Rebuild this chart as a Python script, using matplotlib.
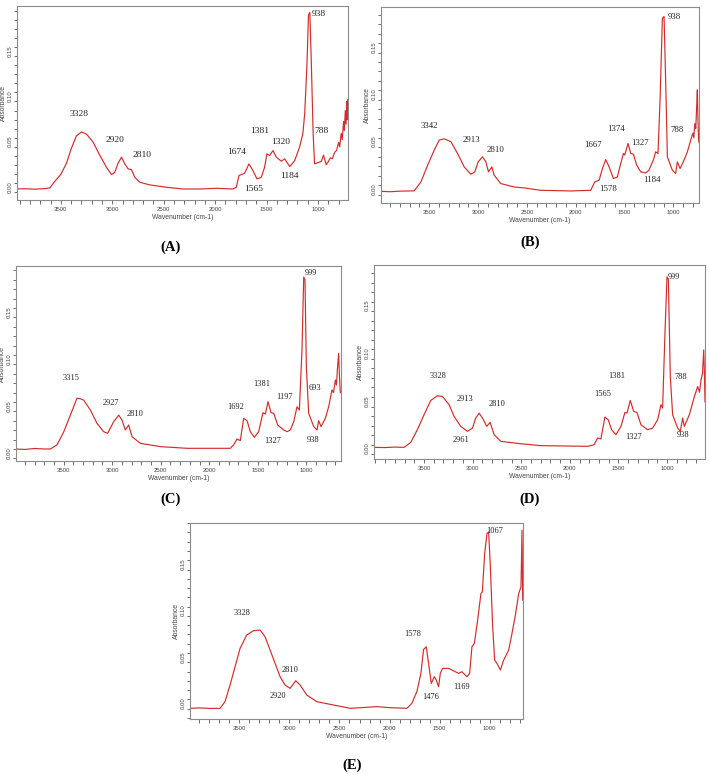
import matplotlib
matplotlib.use('Agg')
import matplotlib.pyplot as plt
from matplotlib.ticker import MultipleLocator, FixedLocator

# FTIR spectra, values
A_wn = [3930, 3850, 3750, 3650, 3607, 3560, 3500, 3446, 3400, 3350, 3300, 3250, 3186,
        3121, 3057, 3008, 2976, 2943, 2911, 2879, 2846, 2814, 2782, 2733, 2636, 2474,
        2312, 2150, 1989, 1827, 1795, 1769, 1746, 1714, 1672, 1633, 1594, 1552, 1520,
        1497, 1471, 1438, 1406, 1357, 1325, 1275, 1227, 1180, 1148, 1130, 1109, 1093,
        1080, 1065, 1048, 1034, 992, 969, 947, 921, 900, 880, 860, 840, 820, 800, 790,
        775, 765, 752, 745, 735, 728, 720, 715, 710, 705]
A_abs = [-0.0062, -0.0060, -0.0065, -0.0058, -0.0050, 0.002, 0.010, 0.022, 0.038, 0.052,
         0.0565, 0.054, 0.045, 0.0305, 0.0176, 0.0096, 0.0121, 0.0224, 0.0287, 0.0213,
         0.0158, 0.015, 0.0066, 0.0011, -0.0018, -0.0044, -0.0063, -0.0063, -0.0055,
         -0.0063, -0.0044, 0.0085, 0.0096, 0.011, 0.0213, 0.014, 0.0048, 0.0066, 0.0176,
         0.0324, 0.0305, 0.036, 0.0287, 0.0243, 0.0268, 0.0184, 0.025, 0.0397, 0.0544,
         0.0765, 0.128, 0.185, 0.188, 0.13, 0.055, 0.0214, 0.023, 0.024, 0.031, 0.0204,
         0.024, 0.028, 0.027, 0.034, 0.036, 0.045, 0.040, 0.055, 0.048, 0.068, 0.058,
         0.080, 0.065, 0.090, 0.070, 0.092, 0.080]

B_wn = [3994, 3900, 3800, 3700, 3653, 3585, 3517, 3449, 3398, 3347, 3278, 3210, 3142,
        3074, 3033, 2999, 2954, 2920, 2893, 2859, 2835, 2767, 2630, 2528, 2357, 2050,
        1846, 1805, 1760, 1726, 1692, 1658, 1614, 1573, 1539, 1511, 1498, 1464, 1436,
        1409, 1375, 1334, 1283, 1249, 1205, 1181, 1157, 1136, 1112, 1095, 1078, 1061,
        1010, 976, 959, 931, 890, 856, 822, 800, 790, 780, 770, 760, 754, 748, 742, 737]
B_abs = [-0.0064, -0.0068, -0.0062, -0.0060, -0.0058, 0.0035, 0.021, 0.037, 0.0476,
         0.049, 0.0459, 0.0335, 0.0194, 0.0116, 0.0141, 0.0247, 0.030, 0.0247, 0.0141,
         0.0194, 0.0106, 0.0018, -0.0018, -0.0028, -0.0053, -0.006, -0.0053, 0.0035,
         0.0053, 0.0176, 0.0272, 0.0194, 0.0071, 0.0088, 0.0229, 0.0335, 0.0318, 0.0441,
         0.0335, 0.0328, 0.0212, 0.0141, 0.013, 0.0159, 0.0265, 0.0353, 0.0335, 0.09,
         0.176, 0.178, 0.108, 0.030, 0.0159, 0.0124, 0.0247, 0.0176, 0.0265, 0.0353,
         0.0476, 0.055, 0.050, 0.065, 0.060, 0.085, 0.1006, 0.07, 0.05, 0.045]

C_wn = [3991, 3900, 3800, 3700, 3637, 3569, 3500, 3431, 3363, 3330, 3294, 3225, 3157,
        3088, 3047, 2985, 2933, 2899, 2865, 2830, 2796, 2710, 2504, 2229, 1783, 1749,
        1714, 1680, 1646, 1611, 1577, 1536, 1491, 1447, 1422, 1395, 1364, 1336, 1295,
        1233, 1199, 1165, 1130, 1096, 1072, 1045, 1027, 1014, 1000, 976, 924, 890, 873,
        849, 804, 770, 736, 720, 701, 690, 680, 667, 660, 650]
C_abs = [0.0, -0.0005, 0.0005, 0.0, 0.0, 0.0043, 0.018, 0.036, 0.054, 0.0535, 0.052,
         0.0415, 0.0273, 0.0184, 0.0167, 0.029, 0.036, 0.0308, 0.0202, 0.0255, 0.0131,
         0.006, 0.0025, 0.0007, 0.0007, 0.0043, 0.0106, 0.0089, 0.0326, 0.0301, 0.0184,
         0.0124, 0.0184, 0.0387, 0.0372, 0.0504, 0.0387, 0.038, 0.0255, 0.0202, 0.0184,
         0.0202, 0.029, 0.045, 0.0415, 0.105, 0.183, 0.18, 0.0876, 0.038, 0.0238, 0.0202,
         0.0301, 0.0238, 0.0326, 0.045, 0.0628, 0.060, 0.0734, 0.068, 0.085, 0.1018,
         0.08, 0.06]

D_wn = [4015, 3900, 3800, 3706, 3637, 3569, 3500, 3431, 3363, 3311, 3242, 3191, 3122,
        3054, 3002, 2968, 2933, 2899, 2854, 2820, 2779, 2710, 2504, 2298, 1817, 1749,
        1714, 1680, 1639, 1604, 1570, 1525, 1474, 1433, 1412, 1378, 1343, 1309, 1268,
        1199, 1148, 1096, 1062, 1045, 1021, 1000, 986, 966, 942, 890, 863, 839, 822, 770,
        718, 684, 665, 650, 635, 622, 615, 609]
D_abs = [-0.0028, -0.003, -0.0025, -0.0028, 0.0024, 0.0157, 0.0314, 0.0464, 0.0513,
         0.0506, 0.0419, 0.0297, 0.0192, 0.014, 0.0174, 0.0279, 0.0331, 0.0279, 0.0192,
         0.0234, 0.0105, 0.0035, 0.001, -0.001, -0.0017, 0.0, 0.007, 0.006, 0.029, 0.026,
         0.0157, 0.0105, 0.0192, 0.0338, 0.0331, 0.0464, 0.0349, 0.0338, 0.0209, 0.0157,
         0.0174, 0.0262, 0.0419, 0.0384, 0.117, 0.176, 0.173, 0.0715, 0.0314, 0.0174,
         0.014, 0.0279, 0.0192, 0.0314, 0.0506, 0.061, 0.055, 0.068, 0.075, 0.0994,
         0.075, 0.045]

E_wn = [3993, 3900, 3800, 3693, 3643, 3593, 3543, 3493, 3427, 3360, 3293, 3243, 3193,
        3143, 3093, 3043, 2993, 2937, 2893, 2827, 2727, 2560, 2393, 2127, 1993, 1827,
        1777, 1727, 1687, 1660, 1633, 1610, 1583, 1553, 1533, 1510, 1493, 1470, 1410,
        1343, 1310, 1277, 1227, 1200, 1177, 1153, 1120, 1087, 1073, 1050, 1027, 1010,
        993, 970, 950, 927, 893, 860, 810, 777, 743, 710, 687, 677, 670]
E_abs = [-0.0097, -0.0092, -0.0098, -0.0097, -0.0025, 0.0154, 0.0352, 0.0549, 0.0693,
         0.074, 0.0747, 0.0675, 0.0531, 0.0388, 0.0244, 0.0154, 0.0118, 0.0201, 0.0154,
         0.0047, -0.0025, -0.0061, -0.0097, -0.0079, -0.009, -0.0097, -0.0043, 0.0083,
         0.028, 0.0538, 0.0567, 0.0388, 0.0172, 0.0244, 0.0208, 0.0136, 0.028, 0.0334,
         0.0334, 0.0298, 0.028, 0.0298, 0.0244, 0.028, 0.0567, 0.0603, 0.0854, 0.1141,
         0.1159, 0.1572, 0.1788, 0.1806, 0.1429, 0.0783, 0.0424, 0.0388, 0.0316, 0.0424,
         0.0531, 0.0711, 0.0908, 0.1141, 0.1213, 0.1824, 0.107]

# peak labels: text, wavenumber, absorbance where the label sits
A_notes = [("3328", 3325, 0.0765), ("2920", 2976, 0.0478), ("2810", 2707, 0.0316),
           ("1674", 1788, 0.0342), ("1565", 1626, -0.0063), ("1381", 1568, 0.058),
           ("1320", 1364, 0.0452), ("1184", 1277, 0.0085), ("938", 992, 0.186),
           ("788", 969, 0.0574)]
B_notes = [("3342", 3500, 0.0628), ("2913", 3063, 0.0476), ("2810", 2818, 0.037),
           ("1667", 1819, 0.0423), ("1578", 1668, -0.0035), ("1374", 1583, 0.0593),
           ("1327", 1341, 0.0448), ("1184", 1215, 0.0053), ("938", 987, 0.1775),
           ("788", 966, 0.0582)]
C_notes = [("3315", 3421, 0.0752), ("2927", 3009, 0.0493), ("2810", 2762, 0.0369),
           ("1692", 1731, 0.045), ("1381", 1457, 0.0688), ("1197", 1227, 0.0557),
           ("1327", 1343, 0.0085), ("999", 952, 0.187), ("693", 907, 0.0645),
           ("938", 931, 0.0096)]
D_notes = [("3328", 3352, 0.0722), ("2913", 3078, 0.0478), ("2961", 3115, 0.0052),
           ("2810", 2751, 0.0429), ("1565", 1663, 0.0534), ("1381", 1519, 0.0715),
           ("1327", 1343, 0.008), ("999", 931, 0.176), ("788", 856, 0.0705),
           ("938", 839, 0.0105)]
E_notes = [("3328", 3477, 0.0933), ("2810", 2993, 0.0316), ("2920", 3117, 0.0036),
           ("1578", 1767, 0.07), ("1476", 1593, 0.0029), ("1169", 1283, 0.0129),
           ("1067", 950, 0.1816)]

wn_ticks = [3500, 3000, 2500, 2000, 1500, 1000]

W, H = 709, 774
fig = plt.figure(figsize=(W / 100, H / 100), dpi=100)


def px_axes(l, t, r, b):
    return fig.add_axes([l / W, 1 - b / H, (r - l) / W, (b - t) / H])


def draw_panel(box, wn, ab, xlim, ylim, notes, fs):
    ax = px_axes(*box)
    ax.plot(wn, ab, color='#d42b2b', lw=0.85)
    ax.set_xlim(*xlim)
    ax.set_ylim(*ylim)
    ax.xaxis.set_major_locator(FixedLocator(wn_ticks))
    ax.xaxis.set_minor_locator(MultipleLocator(100))
    ax.yaxis.set_major_locator(MultipleLocator(0.05))
    ax.yaxis.set_minor_locator(MultipleLocator(0.01))
    ax.tick_params(axis='x', which='both', direction='out', length=3, width=0.6,
                   color='#555555', labelsize=4.3, labelcolor='#444444', pad=2)
    ax.tick_params(axis='y', which='both', direction='out', length=2, width=0.6,
                   color='#555555', labelsize=4.3, labelcolor='#444444', pad=0.8,
                   labelrotation=90)
    ax.yaxis.set_major_formatter(plt.FuncFormatter(lambda v, p: "%.2f" % v))
    for s in ax.spines.values():
        s.set_color('#8c8c8c')
        s.set_linewidth(0.8)
    ax.set_xlabel("Wavenumber (cm-1)", fontsize=4.9, color='#444444', labelpad=1.5,
                  family='Liberation Sans')
    ax.set_ylabel("Absorbance", fontsize=4.9, color='#444444', labelpad=0.5,
                  family='Liberation Sans')
    for txt, x, y in notes:
        ax.text(x, y, txt, fontsize=fs, family='Liberation Serif', color='#222222',
                ha='center', va='center')
    return ax


plt.rcParams['font.family'] = ['Liberation Sans', 'DejaVu Sans']

draw_panel((17, 6, 348, 200), A_wn, A_abs, (3927, 709), (-0.0184, 0.195), A_notes, 6.8)
draw_panel((381, 7, 699, 203), B_wn, B_abs, (3994, 737), (-0.0187, 0.188), B_notes, 6.3)
draw_panel((16, 266, 341, 461), C_wn, C_abs, (3991, 643), (-0.0128, 0.1947), C_notes, 6.0)
draw_panel((374, 265, 705, 459), D_wn, D_abs, (4015, 609), (-0.015, 0.1884), D_notes, 6.0)
draw_panel((190, 523, 523, 719), E_wn, E_abs, (3993, 667), (-0.0212, 0.1902), E_notes, 6.0)

for lab, x, y in [("(A)", 171, 247), ("(B)", 530, 242), ("(C)", 171, 499),
                  ("(D)", 530, 499), ("(E)", 352, 765)]:
    fig.text(x / W, 1 - y / H, lab, fontsize=10.5, fontweight='bold',
             family='Liberation Serif', ha='center', va='center')

fig.savefig('out.png', dpi=100)
